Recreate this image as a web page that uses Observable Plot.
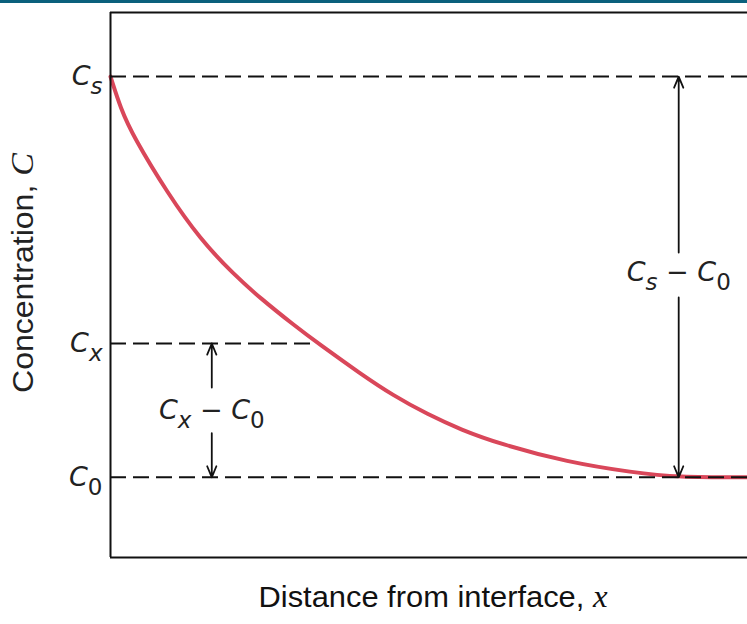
<!DOCTYPE html>
<html><head><meta charset="utf-8">
<script src="https://cdn.jsdelivr.net/npm/d3@7"></script>
<script src="https://cdn.jsdelivr.net/npm/@observablehq/plot@0.6"></script>
<style>
html,body{margin:0;padding:0;background:#fff;overflow:hidden}
#wrap{position:relative;width:747px;height:624px}
#bar{position:absolute;left:0;top:0;width:747px;height:3px;background:#0b607c}
#wrap svg text{white-space:pre}
</style></head><body><div id="wrap"><div id="bar"></div></div>
<script>
// concentration profile (distance in arbitrary units, concentration scaled so C0 = 0, Cs = 1)
const distance      = [0, 0.16, 0.36, 0.9, 1.41, 1.93, 2.36, 2.87, 3.27, 3.93, 4.44, 4.98, 5.5, 6.12, 7.17, 8.21, 8.9, 10];
const concentration = [1, 0.92, 0.85, 0.708, 0.594, 0.507, 0.446, 0.381, 0.333, 0.258, 0.204, 0.157, 0.119, 0.083, 0.038, 0.012, 0, 0];

// reference levels
const levelNames  = ["C_s", "C_x", "C_0"];
const levelValues = [1, 0.334, 0];
const levelEnds   = [10, 3.22, 10];

// difference spans
const spanLabels    = ["C_x − C_0", "C_s − C_0"];
const spanX         = [1.59, 8.92];
const spanLabelC    = [0.167, 0.511];
const spanTop       = [0.334, 1];
const spanBottom    = [0, 0];
const spanGapTop    = [0.224, 0.561];
const spanGapBottom = [0.11, 0.449];

const xTitle = "Distance from interface, x";
const yTitle = "Concentration, C";
const frameC  = [-0.2, 1.16];
const xDomain = [0, 10];

const curve  = distance.map((x, i) => ({x, c: concentration[i]}));
const levels = levelNames.map((name, i) => ({name, c: levelValues[i], end: levelEnds[i]}));
const spans  = spanLabels.map((label, i) => ({label, x: spanX[i], c: spanLabelC[i], top: spanTop[i],
  bottom: spanBottom[i], gTop: spanGapTop[i], gBot: spanGapBottom[i]}));

const ink = "#111";
const symFont = "'DejaVu Sans', 'Open Sans', sans-serif";
const titleFont = "'Liberation Sans Narrow', 'Liberation Sans', Arial, sans-serif";

const plot = Plot.plot({
  width: 747, height: 624, marginLeft: 110, marginRight: 0, marginTop: 12, marginBottom: 67,
  x: {domain: xDomain, axis: null},
  y: {domain: frameC, axis: null},
  style: {background: "transparent", overflow: "visible"},
  marks: [
    Plot.line(curve, {x: "x", y: "c", stroke: "#d9475a", strokeWidth: 4, curve: "basis"}),
    Plot.ruleY(levels, {y: "c", x1: 0, x2: "end", stroke: ink, strokeWidth: 2, strokeDasharray: "16,7"}),
    Plot.ruleY(frameC, {stroke: ink, strokeWidth: 2}),
    Plot.ruleX([0], {y1: frameC[0], y2: frameC[1], stroke: ink, strokeWidth: 2}),
    Plot.arrow(spans, {x1: "x", x2: "x", y1: "gTop", y2: "top", stroke: ink, strokeWidth: 1.8, headLength: 10, headAngle: 45}),
    Plot.arrow(spans, {x1: "x", x2: "x", y1: "gBot", y2: "bottom", stroke: ink, strokeWidth: 1.8, headLength: 10, headAngle: 45}),
    Plot.text(levels, {x: 0, y: "c", text: "name", textAnchor: "end", lineAnchor: "middle", dx: -8, fontSize: 27, fill: "#222", fontFamily: symFont}),
    Plot.text(spans, {x: "x", y: "c", text: "label", textAnchor: "middle", lineAnchor: "middle", fontSize: 27, fill: "#222", fontFamily: symFont}),
    Plot.text([xTitle], {frameAnchor: "bottom", textAnchor: "middle", lineAnchor: "middle", dx: 4, dy: 40, fontSize: 30, fill: "#111", fontFamily: titleFont}),
    Plot.text([yTitle], {frameAnchor: "left", textAnchor: "middle", lineAnchor: "middle", rotate: -90, dx: -87, dy: -12, fontSize: 30, fill: "#222", fontFamily: titleFont})
  ]
});

const NS = "http://www.w3.org/2000/svg";
function tspan(parent, str, attrs) {
  const ts = document.createElementNS(NS, "tspan");
  ts.textContent = str;
  for (const k in attrs) ts.setAttribute(k, attrs[k]);
  parent.appendChild(ts);
}
function rich(t) {
  const s = t.textContent;
  if (!s.includes("_")) return;
  while (t.firstChild) t.removeChild(t.firstChild);
  const shift = 9;
  let low = false, buf = "";
  const flush = () => {
    if (!buf) return;
    const a = {"font-style": "normal"};
    if (low) { a.dy = -shift; low = false; }
    tspan(t, buf, a);
    buf = "";
  };
  for (let i = 0; i < s.length; i++) {
    const ch = s[i];
    if (ch === "_") {
      flush();
      const c = s[++i];
      const a = {"font-size": 23, "font-style": /\d/.test(c) ? "normal" : "italic"};
      if (!low) { a.dy = shift; low = true; }
      tspan(t, c, a);
    } else if (/[A-Za-z]/.test(ch)) {
      flush();
      const a = {"font-style": "italic"};
      if (low) { a.dy = -shift; low = false; }
      tspan(t, ch, a);
    } else {
      buf += ch;
    }
  }
  flush();
}
plot.querySelectorAll("text").forEach(t => {
  const s = t.textContent;
  if (s === xTitle || s === yTitle) {
    const head = s.slice(0, -1), v = s.slice(-1);
    while (t.firstChild) t.removeChild(t.firstChild);
    tspan(t, head, {});
    tspan(t, v, {"font-family": "'Liberation Serif', 'DejaVu Serif', serif", "font-style": "italic", "font-size": 32});
    t.setAttribute("textLength", s === xTitle ? 349 : 240);
    t.setAttribute("lengthAdjust", "spacingAndGlyphs");
  } else {
    rich(t);
  }
});
document.getElementById("wrap").appendChild(plot);
</script></body></html>
